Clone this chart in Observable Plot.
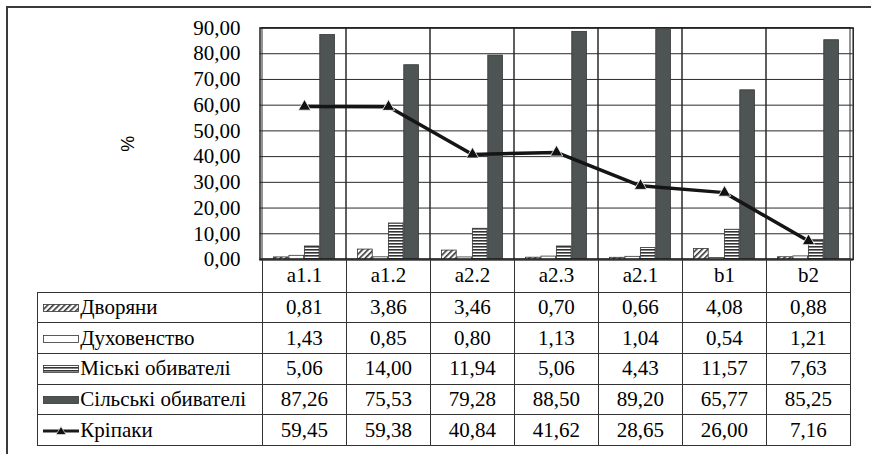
<!DOCTYPE html>
<html><head><meta charset="utf-8">
<script src="https://cdn.jsdelivr.net/npm/d3@7"></script>
<script src="https://cdn.jsdelivr.net/npm/@observablehq/plot@0.6"></script>
<style>
html,body{margin:0;padding:0;}
body{width:871px;height:454px;overflow:hidden;background:#fff;position:relative;font-family:'Liberation Serif','Tinos','DejaVu Serif',serif;color:#000;}
#frame{position:absolute;left:6px;top:6px;width:1000px;height:1000px;border:2px solid #3a3a3a;box-sizing:border-box;}
#chart{position:absolute;left:0;top:0;}
#tbl{position:absolute;border-collapse:collapse;table-layout:fixed;font-size:21px;line-height:1;}
#tbl td{border:1px solid #333;padding:0;text-align:center;white-space:nowrap;overflow:hidden;}
#tbl td.key{text-align:left;padding-left:5px;}
#tbl td.key svg{vertical-align:middle;margin-right:1px;position:relative;top:-1px;}
#tbl td.blank{border-top:none;border-left:none;}
</style></head>
<body>
<div id="frame"></div>
<div id="chart"></div>
<table id="tbl"></table>
<script>
// ---- data ----
const categories = ["a1.1", "a1.2", "a2.2", "a2.3", "a2.1", "b1", "b2"];
const seriesNames = ["Дворяни", "Духовенство", "Міські обивателі", "Сільські обивателі", "Кріпаки"];
const dvoryany     = [0.81, 3.86, 3.46, 0.70, 0.66, 4.08, 0.88];
const dukhovenstvo = [1.43, 0.85, 0.80, 1.13, 1.04, 0.54, 1.21];
const miski        = [5.06, 14.00, 11.94, 5.06, 4.43, 11.57, 7.63];
const silski       = [87.26, 75.53, 79.28, 88.50, 89.20, 65.77, 85.25];
const kripaky      = [59.45, 59.38, 40.84, 41.62, 28.65, 26.00, 7.16];
const yTicks       = [0, 10, 20, 30, 40, 50, 60, 70, 80, 90];
const yLabel = "%";

// ---- layout / style ----
const W = 871, H = 454;
const mL = 259.5, mR = 18.3, mT = 27.5, plotBottom = 259;
const mB = H - plotBottom;
const bw = (W - mL - mR) / categories.length;
const barW = bw / 5.5, off = barW * 0.75;
const fills = ["url(#hatch)", "#ffffff", "url(#stripes)", "#4e5354"];
const barValues = [dvoryany, dukhovenstvo, miski, silski];
const fmt = v => d3.format(".2f")(v).replace(".", ",");
const serif = "'Liberation Serif', 'Tinos', 'DejaVu Serif', serif";

const rows = v => categories.map((c, j) => ({c, v: v[j]}));

function defsMark() {
  const ns = "http://www.w3.org/2000/svg";
  const g = document.createElementNS(ns, "g");
  g.innerHTML = `
  <defs>
    <pattern id="hatch" patternUnits="userSpaceOnUse" width="4" height="4" patternTransform="rotate(45)">
      <rect width="4" height="4" fill="#fff"/>
      <rect x="0" y="0" width="1.6" height="4" fill="#333"/>
    </pattern>
    <pattern id="stripes" patternUnits="userSpaceOnUse" width="4" height="3">
      <rect width="4" height="3" fill="#fff"/>
      <rect x="0" y="0" width="4" height="1.6" fill="#333"/>
    </pattern>
  </defs>`;
  return g;
}

const marks = [
  defsMark,
  Plot.ruleY(yTicks, {stroke: "#2a2a2a", strokeWidth: 1}),
  Plot.cell(categories, {x: d => d, fill: "none", stroke: "#2a2a2a", strokeWidth: 1}),
];
barValues.forEach((vals, i) => {
  marks.push(Plot.barY(rows(vals), {
    x: "c", y: "v", fill: fills[i], stroke: "#333", strokeWidth: 0.8,
    insetLeft: off + i * barW, insetRight: bw - off - (i + 1) * barW
  }));
});
marks.push(
  Plot.line(rows(kripaky), {x: "c", y: "v", stroke: "#151515", strokeWidth: 3.5}),
  Plot.dot(rows(kripaky), {x: "c", y: "v", symbol: "triangle", r: 4.6, fill: "#111", stroke: "#fff", strokeWidth: 0.8}),
  Plot.ruleY([0], {stroke: "#111", strokeWidth: 2}),
  Plot.frame({stroke: "#222", strokeWidth: 1.5}),
  Plot.axisY(yTicks, {tickSize: 0, tickPadding: 19.5, tickFormat: fmt, label: null, fontSize: 21, fontFamily: serif, fill: "#000"}),
  Plot.text([yLabel], {text: d => d, frameAnchor: "left", textAnchor: "middle", dx: -132, rotate: -90, fontFamily: "'Liberation Sans', Arial, sans-serif", fontSize: 18, fill: "#000"})
);

const chart = Plot.plot({
  width: W, height: H,
  marginLeft: mL, marginRight: mR, marginTop: mT, marginBottom: mB,
  x: {type: "band", domain: categories, padding: 0, axis: null},
  y: {domain: [0, 90], axis: null},
  style: {fontFamily: serif, fontSize: "21px", background: "transparent", color: "#000"},
  marks
});
document.getElementById("chart").appendChild(chart);

// ---- data table, aligned with x scale ----
const xs = chart.scale("x");
const colW = xs.bandwidth;
const tableLeft = 37.3;
const keyW = xs.apply(categories[0]) - tableLeft;
const tbl = document.getElementById("tbl");
tbl.style.left = tableLeft + "px";
tbl.style.top = plotBottom + "px";
tbl.style.width = (keyW + colW * categories.length) + "px";

const swatch = i => {
  if (i === 4) {
    return `<svg width="36" height="10"><line x1="0" y1="5" x2="36" y2="5" stroke="#1a1a1a" stroke-width="3"/><path d="M18,0.5 L23,8.5 L13,8.5 Z" fill="#111" stroke="#fff" stroke-width="0.6"/></svg>`;
  }
  return `<svg width="36" height="10"><rect x="0.5" y="1.5" width="35" height="7" fill="${fills[i]}" stroke="#333" stroke-width="0.8"/></svg>`;
};

let html = `<colgroup><col style="width:${keyW}px">` + categories.map(() => `<col style="width:${colW}px">`).join("") + `</colgroup>`;
html += `<tr style="height:32.5px"><td class="blank"></td>` + categories.map(c => `<td>${c}</td>`).join("") + `</tr>`;
const allSeries = [dvoryany, dukhovenstvo, miski, silski, kripaky];
seriesNames.forEach((name, i) => {
  html += `<tr style="height:30.7px"><td class="key">${swatch(i)}${name}</td>` +
    allSeries[i].map(v => `<td>${fmt(v)}</td>`).join("") + `</tr>`;
});
tbl.innerHTML = html;
</script>
</body></html>
